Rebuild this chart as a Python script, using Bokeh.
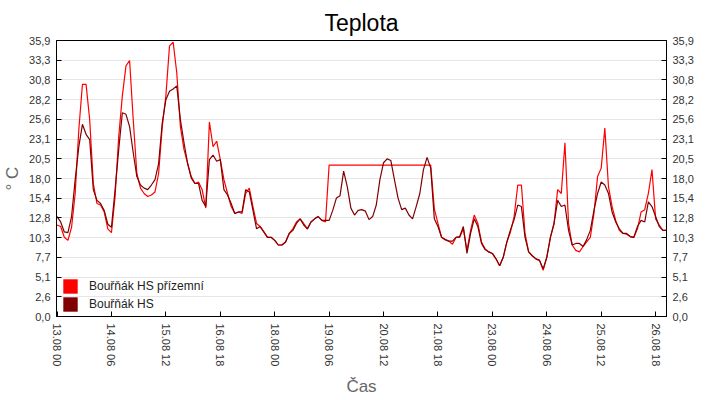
from bokeh.plotting import figure
from bokeh.models import (Range1d, LinearAxis, FixedTicker, Legend, LegendItem,
                          CustomJSTickFormatter)
from bokeh.embed import file_html
from bokeh.resources import INLINE

# ---- data -------------------------------------------------------------
title = "Teplota"
series_names = ["Bouřňák HS přízemní", "Bouřňák HS"]
hours = list(range(0, 338, 2))  # hours since 13.08 00:00

hs_prizemni = [
    11.9, 11.7, 10.3, 9.9, 11.6, 16.0, 24.3, 30.2, 30.2, 25.6,
    17.3, 14.7, 14.5, 13.6, 11.4, 10.9, 15.6, 23.4, 28.7, 32.6,
    33.3, 25.6, 18.6, 16.7, 16.0, 15.6, 15.8, 16.2, 18.6, 24.7,
    28.7, 35.2, 35.7, 31.7, 24.7, 21.7, 19.9, 18.2, 17.3, 17.5,
    16.5, 14.1, 25.3, 22.1, 22.8, 20.4, 17.8, 16.0, 14.3, 13.4,
    13.6, 13.4, 16.0, 16.7, 14.3, 12.1, 11.7, 11.0, 10.3, 10.3,
    9.9, 9.3, 9.3, 9.7, 10.8, 11.4, 12.3, 12.7, 12.1, 11.4,
    12.3, 12.7, 13.0, 12.5, 12.3, 19.7, 19.7, 19.7, 19.7, 19.7,
    19.7, 19.7, 19.7, 19.7, 19.7, 19.7, 19.7, 19.7, 19.7, 19.7,
    19.7, 19.7, 19.7, 19.7, 19.7, 19.7, 19.7, 19.7, 19.7, 19.7,
    19.7, 19.7, 19.7, 19.7, 14.0, 12.1, 10.3, 10.0, 9.8, 9.4,
    10.3, 10.3, 11.4, 8.6, 11.2, 13.2, 12.1, 9.7, 8.8, 8.4,
    8.2, 7.5, 6.6, 7.7, 9.7, 11.0, 13.0, 17.1, 17.1, 10.8,
    8.4, 7.9, 7.5, 7.3, 6.0, 7.7, 10.3, 12.1, 16.5, 16.0,
    22.6, 12.1, 9.3, 8.6, 8.4, 9.1, 9.7, 10.3, 13.4, 18.2,
    19.3, 24.5, 16.9, 14.3, 12.5, 11.2, 10.8, 10.7, 10.4, 10.3,
    11.4, 13.6, 13.9, 16.0, 19.1, 12.7, 11.9, 11.2, 11.2,
]

hs = [
    13.0, 12.3, 11.0, 10.9, 13.0, 17.8, 22.1, 25.0, 23.7, 23.0,
    16.5, 15.1, 14.7, 13.8, 12.0, 11.6, 16.5, 21.7, 26.5, 26.3,
    24.7, 21.3, 18.2, 17.1, 16.7, 16.5, 17.1, 17.8, 19.9, 25.2,
    28.2, 29.3, 29.6, 30.0, 25.6, 22.6, 19.9, 18.0, 17.3, 17.3,
    15.1, 14.3, 20.4, 21.0, 20.2, 20.4, 16.5, 15.8, 14.7, 13.4,
    13.6, 13.6, 16.5, 16.2, 13.8, 11.4, 11.7, 11.0, 10.3, 10.3,
    9.9, 9.3, 9.3, 9.7, 10.8, 11.2, 12.1, 12.7, 11.9, 11.4,
    12.3, 12.7, 13.0, 12.5, 12.5, 12.5, 13.8, 15.4, 15.7, 18.9,
    16.9, 14.1, 13.2, 13.8, 13.9, 13.7, 12.6, 13.0, 14.5, 17.8,
    20.0, 20.5, 20.3, 17.8, 15.4, 13.9, 14.1, 13.2, 12.7, 14.3,
    16.0, 19.1, 20.7, 19.3, 12.7, 11.7, 10.3, 10.0, 9.8, 9.8,
    10.3, 10.4, 11.7, 8.2, 10.8, 12.7, 11.7, 9.5, 8.7, 8.4,
    8.2, 7.5, 6.6, 7.7, 9.7, 11.3, 12.6, 14.5, 14.3, 10.3,
    8.4, 7.9, 7.5, 7.3, 6.2, 7.7, 10.3, 12.1, 15.1, 14.3,
    14.5, 11.2, 9.3, 9.5, 9.5, 9.1, 10.0, 11.2, 13.8, 16.0,
    17.5, 17.1, 16.0, 13.6, 12.3, 11.4, 10.8, 10.8, 10.4, 10.3,
    11.7, 12.5, 12.3, 14.9, 14.3, 13.0, 11.7, 11.2, 11.2,
]

x_tick_hours = [0, 30, 60, 90, 120, 150, 180, 210, 240, 270, 300, 330]
x_tick_labels = ["13.08 00", "14.08 06", "15.08 12", "16.08 18", "18.08 00",
                 "19.08 06", "20.08 12", "21.08 18", "23.08 00", "24.08 06",
                 "25.08 12", "26.08 18"]
y_max = 35.9
y_tick_labels = ["0,0", "2,6", "5,1", "7,7", "10,3", "12,8", "15,4", "18,0",
                 "20,5", "23,1", "25,6", "28,2", "30,8", "33,3", "35,9"]

colors = ["#ff0000", "#800000"]
FONT = "Liberation Sans"

# ---- figure -----------------------------------------------------------
y_step = y_max / (len(y_tick_labels) - 1)
y_ticks = [i * y_step for i in range(len(y_tick_labels))]

p = figure(width=720, height=400, output_backend="svg", toolbar_location=None,
           x_range=Range1d(-0.3, 336), y_range=Range1d(0, y_max),
           min_border_left=54, min_border_right=54, min_border_top=40,
           min_border_bottom=84)

p.title.text = title
p.title.align = "center"
p.title.text_font = FONT
p.title.text_font_size = "23px"
p.title.text_font_style = "normal"
p.title.text_color = "#000000"
p.title.standoff = 9

p.outline_line_color = "#000000"
p.outline_line_width = 1
p.background_fill_color = "#ffffff"
p.border_fill_color = "#ffffff"

yfmt = CustomJSTickFormatter(args=dict(labels=y_tick_labels, step=y_step),
                             code="return labels[Math.round(tick / step)];")
xfmt = CustomJSTickFormatter(args=dict(labels=x_tick_labels),
                             code="return labels[Math.round(tick / 30)];")

def style_axis(ax):
    ax.axis_line_color = "#000000"
    ax.major_tick_line_color = "#000000"
    ax.major_tick_in = 5
    ax.major_tick_out = 0
    ax.minor_tick_line_color = None
    ax.major_label_text_font = FONT
    ax.major_label_text_font_size = "11px"
    ax.major_label_text_color = "#333333"
    ax.axis_label_text_font = FONT
    ax.axis_label_text_font_style = "normal"
    ax.axis_label_text_color = "#666666"

ly = p.yaxis[0]
ly.ticker = FixedTicker(ticks=y_ticks)
ly.formatter = yfmt
style_axis(ly)
ly.axis_label = "° C"
ly.axis_label_text_font_size = "17px"
ly.major_label_standoff = 6
ly.axis_label_standoff = 4

ry = LinearAxis(ticker=FixedTicker(ticks=y_ticks), formatter=yfmt)
style_axis(ry)
ry.major_label_standoff = 6
p.add_layout(ry, "right")

bx = p.xaxis[0]
bx.ticker = FixedTicker(ticks=x_tick_hours)
bx.formatter = xfmt
style_axis(bx)
bx.major_label_orientation = "vertical"
bx.major_label_standoff = 7
bx.axis_label = "Čas"
bx.axis_label_text_font_size = "17px"
bx.axis_label_standoff = 8

p.xgrid.grid_line_color = None
p.ygrid.ticker = FixedTicker(ticks=y_ticks)
p.ygrid.grid_line_color = "#e6e6e6"

p.line(hours, hs_prizemni, line_color=colors[0], line_width=1.2)
p.line(hours, hs, line_color=colors[1], line_width=1.2)

# zero-size quads, used only as square legend swatches
sw0 = p.quad(left=hours[:1], right=hours[:1], top=[0], bottom=[0],
             fill_color=colors[0], line_color=None)
sw1 = p.quad(left=hours[:1], right=hours[:1], top=[0], bottom=[0],
             fill_color=colors[1], line_color=None)

legend = Legend(items=[LegendItem(label=series_names[0], renderers=[sw0]),
                       LegendItem(label=series_names[1], renderers=[sw1])],
                location=(5, 3), glyph_width=18, glyph_height=18, label_height=18,
                spacing=0, padding=0, margin=0, border_line_color=None,
                background_fill_alpha=0, label_standoff=10,
                label_text_font=FONT, label_text_font_size="12px",
                label_text_color="#222222")
p.add_layout(legend)

open("out.html", "w").write(file_html(p, INLINE))
